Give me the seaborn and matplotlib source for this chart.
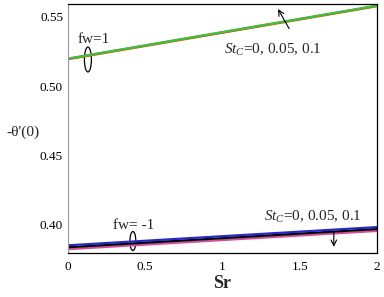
import numpy as np
import pandas as pd
import matplotlib
matplotlib.use("Agg")
import matplotlib.pyplot as plt
from matplotlib.patches import Ellipse
from matplotlib.ticker import AutoMinorLocator
import seaborn as sns

# Sr values along the x axis
sr = [0.0, 0.5, 1.0, 1.5, 2.0]

# fw = 1 curves (St_C = 0, 0.05, 0.1)
fw1_stc0 = [0.5199, 0.5295, 0.5391, 0.5487, 0.5583]
fw1_stc005 = [0.5197, 0.5293, 0.5389, 0.5485, 0.5581]
fw1_stc01 = [0.5194, 0.5290, 0.5386, 0.5482, 0.5578]

# fw = -1 curves (St_C = 0, 0.05, 0.1)
fwm1_stc0 = [0.3846, 0.3879, 0.3912, 0.3945, 0.3978]
fwm1_stc005 = [0.3832, 0.3865, 0.3898, 0.3931, 0.3964]
fwm1_stc01 = [0.3818, 0.3851, 0.3884, 0.3917, 0.3950]

series = [
    (fw1_stc01, "#c06a1e"),
    (fw1_stc005, "#c06a1e"),
    (fw1_stc0, "#3fbf3f"),
    (fwm1_stc01, "#d0509a"),
    (fwm1_stc005, "#000000"),
    (fwm1_stc0, "#2828c8"),
]

sns.set_style("white")
plt.rcParams["font.family"] = ["Liberation Serif", "DejaVu Serif"]
plt.rcParams["mathtext.fontset"] = "custom"
plt.rcParams["mathtext.rm"] = "Liberation Serif"
plt.rcParams["mathtext.it"] = "Liberation Serif:italic"

fig = plt.figure(figsize=(3.84, 2.97), dpi=100)
ax = fig.add_axes([0.177, 0.148, 0.805, 0.838])

for vals, col in series:
    df = pd.DataFrame({"Sr": sr, "val": vals})
    sns.lineplot(data=df, x="Sr", y="val", color=col, lw=1.6, ax=ax)

ax.set_xlim(0, 2)
ax.set_ylim(0.379, 0.5593)
ax.set_xticks([0, 0.5, 1, 1.5, 2])
ax.set_xticklabels(["0", "0.5", "1", "1.5", "2"])
ax.set_yticks([0.40, 0.45, 0.50, 0.55])
ax.set_yticklabels(["0.40", "0.45", "0.50", "0.55"])
ax.xaxis.set_minor_locator(AutoMinorLocator(5))
ax.yaxis.set_minor_locator(AutoMinorLocator(5))
ax.tick_params(axis="both", which="both", direction="in", colors="#888888",
               labelcolor="black", labelsize=9.5)
ax.tick_params(which="major", length=4)
ax.tick_params(which="minor", length=2)
ax.tick_params(axis="x", pad=6)

for side in ["top", "right", "bottom"]:
    ax.spines[side].set_color("black")
    ax.spines[side].set_linewidth(0.9)
ax.spines["left"].set_color("#999999")
ax.spines["left"].set_linewidth(0.8)

ax.set_xlabel("Sr", fontsize=13, fontweight="bold", labelpad=1)
ax.set_ylabel("")
fig.text(0.060, 0.555, "-θ'(0)", fontsize=11, ha="center", va="center")

# annotations
ax.text(0.06, 0.5335, "fw=1", fontsize=11, va="center")
ax.add_patch(Ellipse((0.129, 0.5192), 0.045, 0.018, fill=False, lw=0.9, color="black"))
ax.text(1.01, 0.5235, r"$St_{C}$=0, 0.05, 0.1", fontsize=11)
ax.annotate("", xy=(1.35, 0.5575), xytext=(1.44, 0.5398),
            arrowprops=dict(arrowstyle="->", lw=0.8, color="black"))

ax.text(0.29, 0.3993, "fw= -1", fontsize=11, va="center")
ax.add_patch(Ellipse((0.42, 0.3877), 0.038, 0.0138, fill=False, lw=0.9, color="black"))
ax.text(1.27, 0.4025, r"$St_{C}$=0, 0.05, 0.1", fontsize=11)
ax.annotate("", xy=(1.72, 0.3815), xytext=(1.72, 0.3965),
            arrowprops=dict(arrowstyle="->", lw=0.8, color="black"))

fig.savefig("out.png", dpi=100)
